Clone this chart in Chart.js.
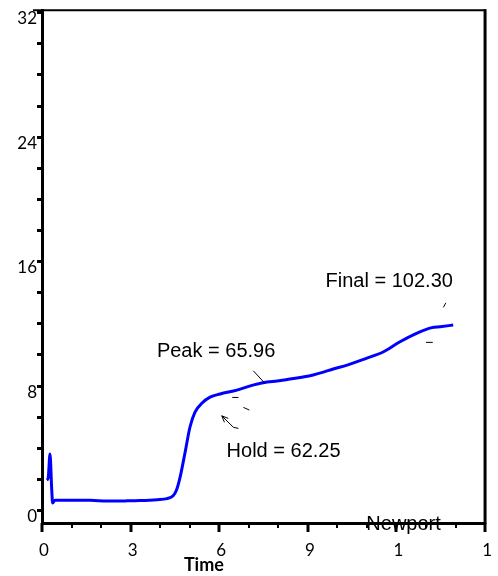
<!DOCTYPE html>
<html>
<head>
<meta charset="utf-8">
<script src="https://cdn.jsdelivr.net/npm/chart.js@4"></script>
<style>
  html, body { margin: 0; padding: 0; background: #fff; }
</style>
</head>
<body>
<canvas id="chart" width="498" height="576"></canvas>
<script>
// --- Data ---
const timeValues = [0.16, 0.21, 0.27, 0.33, 0.36, 0.44, 1.0, 1.63, 2.2, 2.8, 3.32, 3.9, 4.23, 4.44, 4.55, 4.67,
  4.84, 5.01, 5.18, 5.42, 5.69, 6.03, 6.6, 7.14, 7.62, 7.96, 8.4, 8.8, 9.18, 9.5, 9.86, 10.33, 11.0, 11.55,
  12.12, 12.7, 13.2, 13.48, 13.92];
const signalValues = [1.96, 2.09, 3.63, 1.32, 0.48, 0.67, 0.66, 0.66, 0.61, 0.62, 0.64, 0.7, 0.77, 0.95, 1.3, 2.1,
  3.7, 5.37, 6.33, 6.91, 7.29, 7.49, 7.74, 8.06, 8.26, 8.32, 8.45, 8.57, 8.71, 8.88, 9.1, 9.35, 9.8, 10.19,
  10.85, 11.41, 11.76, 11.82, 11.92];

const xTickLabels = ['0', '3', '6', '9', '1', '1'];   // every 3 units (truncated in original)
const yTickLabels = ['0', '8', '16', '24', '32'];     // every 8 units

// text notes, placed in data units
const notes = [
  { text: 'Peak = 65.96', x: 3.89, y: 10.25 },
  { text: 'Hold = 62.25', x: 6.25, y: 3.78 },
  { text: 'Final = 102.30', x: 9.6, y: 14.7 }
];

// little leader strokes next to the notes, data units [x1, y1, x2, y2]
const leaderMarks = [
  [7.155, 8.98, 7.55, 8.17],
  [6.44, 7.27, 6.65, 7.27],
  [6.82, 6.63, 7.02, 6.46],
  [13.59, 13.06, 13.67, 13.35],
  [13.0, 10.81, 13.23, 10.81]
];
const holdArrow = [6.65, 5.28, 6.48, 5.35, 6.085, 6.09];

const X_MIN = 0, X_MAX = 15, Y_MIN = -0.8, Y_MAX = 32.16;

const points = timeValues.map((t, i) => ({ x: t, y: signalValues[i] }));

const decorPlugin = {
  id: 'decor',
  beforeDraw(chart) {
    // watermark sits under the x axis line
    const ctx = chart.ctx, xs = chart.scales.x;
    ctx.save();
    ctx.font = '20px "Liberation Sans", Arial, sans-serif';
    ctx.fillStyle = '#000';
    ctx.textBaseline = 'middle';
    ctx.fillText('Newport', xs.getPixelForValue(10.98), chart.chartArea.bottom + 1);
    ctx.restore();
  },
  afterDraw(chart) {
    const ctx = chart.ctx, xs = chart.scales.x, ys = chart.scales.y;
    const area = chart.chartArea;
    ctx.save();
    ctx.strokeStyle = '#000';

    // x ticks: long every 3, short otherwise
    xs.ticks.forEach(t => {
      const major = t.value % 3 === 0;
      const px = Math.round(xs.getPixelForValue(t.value));
      ctx.lineWidth = major ? 3 : 2;
      ctx.beginPath();
      ctx.moveTo(px, area.bottom);
      ctx.lineTo(px, area.bottom + (major ? 9 : 5));
      ctx.stroke();
    });

    // frame top + right
    ctx.lineWidth = 2;
    ctx.beginPath();
    ctx.moveTo(area.left - 9, area.top);
    ctx.lineTo(area.right + 1, area.top);
    ctx.stroke();
    ctx.lineWidth = 3;
    ctx.beginPath();
    ctx.moveTo(area.right, area.top - 1);
    ctx.lineTo(area.right, area.bottom + 1);
    ctx.stroke();

    // notes
    ctx.fillStyle = '#000';
    ctx.font = '20px "Liberation Sans", Arial, sans-serif';
    ctx.textBaseline = 'middle';
    notes.forEach(n => ctx.fillText(n.text, xs.getPixelForValue(n.x), ys.getPixelForValue(n.y)));

    ctx.lineWidth = 1;
    leaderMarks.forEach(m => {
      ctx.beginPath();
      ctx.moveTo(xs.getPixelForValue(m[0]), ys.getPixelForValue(m[1]));
      ctx.lineTo(xs.getPixelForValue(m[2]), ys.getPixelForValue(m[3]));
      ctx.stroke();
    });
    // hold arrow
    const ax = [0, 2, 4].map(i => xs.getPixelForValue(holdArrow[i]));
    const ay = [1, 3, 5].map(i => ys.getPixelForValue(holdArrow[i]));
    ctx.beginPath();
    ctx.moveTo(ax[0], ay[0]);
    ctx.lineTo(ax[1], ay[1]);
    ctx.lineTo(ax[2], ay[2]);
    ctx.stroke();
    const ang = Math.atan2(ay[2] - ay[1], ax[2] - ax[1]);
    ctx.beginPath();
    ctx.moveTo(ax[2] - 7 * Math.cos(ang - 0.4), ay[2] - 7 * Math.sin(ang - 0.4));
    ctx.lineTo(ax[2], ay[2]);
    ctx.lineTo(ax[2] - 7 * Math.cos(ang + 0.4), ay[2] - 7 * Math.sin(ang + 0.4));
    ctx.stroke();

    // axis title
    ctx.font = 'bold 18px Lato, "Liberation Sans", sans-serif';
    ctx.textAlign = 'center';
    ctx.fillText('Time', xs.getPixelForValue(5.48), chart.height - 11);
    ctx.restore();
  }
};

const tickFont = { family: 'Lato, "Liberation Sans", sans-serif', size: 17 };

new Chart(document.getElementById('chart'), {
  type: 'scatter',
  data: {
    datasets: [{
      data: points,
      showLine: true,
      borderColor: '#0000ff',
      borderWidth: 3,
      pointRadius: 0,
      cubicInterpolationMode: 'monotone'
    }]
  },
  options: {
    responsive: false,
    animation: false,
    layout: { padding: { top: 10, right: 12.5, left: 0, bottom: 0 } },
    plugins: { legend: { display: false }, tooltip: { enabled: false } },
    scales: {
      x: {
        type: 'linear',
        min: X_MIN,
        max: X_MAX,
        afterBuildTicks: s => { s.ticks = Array.from({ length: X_MAX - X_MIN + 1 }, (_, i) => ({ value: X_MIN + i })); },
        afterFit: s => { s.height = 53; },
        grid: { display: true, drawOnChartArea: false, drawTicks: true, tickLength: 9, tickColor: 'rgba(0,0,0,0)' },
        border: { display: true, color: '#000', width: 3 },
        ticks: {
          autoSkip: false,
          maxRotation: 0,
          padding: 8,
          labelOffset: 2,
          color: '#000',
          font: tickFont,
          callback: v => (v % 3 === 0 ? xTickLabels[v / 3] : '')
        }
      },
      y: {
        type: 'linear',
        min: Y_MIN,
        max: Y_MAX,
        afterBuildTicks: s => { s.ticks = Array.from({ length: 17 }, (_, i) => ({ value: i * 2 })); },
        afterFit: s => { s.width = 42; },
        grid: { display: true, drawOnChartArea: false, drawTicks: true, tickLength: 5, tickWidth: 3, tickColor: '#000' },
        border: { display: true, color: '#000', width: 3 },
        ticks: {
          autoSkip: false,
          padding: 0,
          labelOffset: 6,
          color: '#000',
          font: tickFont,
          callback: v => (v % 8 === 0 ? yTickLabels[v / 8] : '')
        }
      }
    }
  },
  plugins: [decorPlugin]
});
</script>
</body>
</html>
